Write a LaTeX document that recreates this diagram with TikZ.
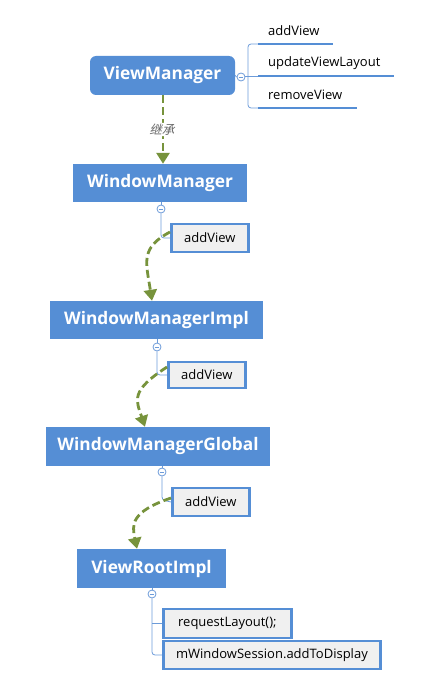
\documentclass[tikz,border=0pt]{standalone}
\usepackage{fontspec}
\setmainfont{Open Sans}
\newfontfamily\cjk{Noto Sans CJK SC}
\usetikzlibrary{arrows.meta}
\definecolor{boxblue}{HTML}{558ED5}
\definecolor{lineblue}{HTML}{6C9BD9}
\definecolor{dgreen}{HTML}{77933C}
\definecolor{subfill}{HTML}{F0F0F0}
\tikzset{
  mainbox/.style={fill=boxblue, text=white, font=\fontsize{17.3}{19}\selectfont\bfseries, inner sep=0pt, anchor=center},
  subbox/.style={draw=boxblue, line width=2.8pt, fill=subfill, font=\fontsize{13}{15}\selectfont, inner sep=0pt, anchor=west, text=black},
  leaf/.style={font=\fontsize{13}{15}\selectfont, anchor=west, inner sep=0pt, text=black},
  uline/.style={draw=boxblue, line width=2.6pt},
  thin/.style={draw=lineblue, line width=0.8pt, rounded corners=3pt},
  coll/.style={circle, draw=lineblue, fill=white, line width=0.8pt, minimum size=8pt, inner sep=0pt},
  flow/.style={draw=dgreen, line width=2.8pt, dash pattern=on 8pt off 4pt, -{Triangle[length=11pt,width=13pt]}},
}
\begin{document}
\begin{tikzpicture}[x=1pt,y=-1pt]
\useasboundingbox (0,0) rectangle (439,690);
% main boxes
\node[mainbox, rounded corners=6pt, minimum width=145pt, minimum height=39pt] (vm) at (162.5,75.5) {ViewManager};
\node[mainbox, minimum width=174pt, minimum height=38pt] (wm) at (160,183) {WindowManager};
\node[mainbox, minimum width=213pt, minimum height=38pt] (wmi) at (156.5,320) {WindowManagerImpl};
\node[mainbox, minimum width=224pt, minimum height=39pt] (wmg) at (158,446.5) {WindowManagerGlobal};
\node[mainbox, minimum width=149pt, minimum height=39pt] (vri) at (151.5,568.5) {ViewRootImpl};

% ViewManager leaves
\coordinate (b1) at (258,44);
\coordinate (b2) at (258,76);
\coordinate (b3) at (258,108);
\node[leaf] (l1) at (268,31) {addView};
\node[leaf] (l2) at (268,63) {updateViewLayout};
\node[leaf] (l3) at (268,95) {removeView};
\draw[uline] (b1) -- (333,44);
\draw[uline] (b2) -- (394,76);
\draw[uline] (b3) -- (357,108);
\draw[thin] (b1) -- (248,44) -- (248,108) -- (b3);
\draw[draw=lineblue, line width=0.8pt] (245,76) -- (b2);
\node[coll] (c0) at (241,77) {};
\draw[lineblue, line width=0.8pt] (vm.east) -- (c0.west);
\draw[lineblue, line width=0.9pt] ([xshift=-2.3pt]c0.center) -- ([xshift=2.3pt]c0.center);

% WindowManager addView
\node[subbox, minimum width=77pt, minimum height=28pt] (a1) at (170,238) {addView};
\node[coll] (c1) at (161,209) {};
\draw[thin] (wm.south -| c1) -- (c1.north);
\draw[thin] (c1.south) -- (161,238) -- (a1.west);
\draw[lineblue, line width=0.9pt] ([xshift=-2.3pt]c1.center) -- ([xshift=2.3pt]c1.center);

% WindowManagerImpl addView
\node[subbox, minimum width=77pt, minimum height=26pt] (a2) at (167,375) {addView};
\node[coll] (c2) at (157,347) {};
\draw[thin] (wmi.south -| c2) -- (c2.north);
\draw[thin] (c2.south) -- (157,375) -- (a2.west);
\draw[lineblue, line width=0.9pt] ([xshift=-2.3pt]c2.center) -- ([xshift=2.3pt]c2.center);

% WindowManagerGlobal addView
\node[subbox, minimum width=77pt, minimum height=28pt] (a3) at (171,502) {addView};
\node[coll] (c3) at (162,472) {};
\draw[thin] (wmg.south -| c3) -- (c3.north);
\draw[thin] (c3.south) -- (162,500) -- (a3.west);
\draw[lineblue, line width=0.9pt] ([xshift=-2.3pt]c3.center) -- ([xshift=2.3pt]c3.center);

% ViewRootImpl children
\node[subbox, minimum width=128pt, minimum height=29pt] (r1) at (162,623.5) {requestLayout();};
\node[subbox, minimum width=217pt, minimum height=28pt] (r2) at (162,655) {mWindowSession.addToDisplay};
\node[coll] (c4) at (152,594) {};
\draw[thin] (vri.south -| c4) -- (c4.north);
\draw[thin] (c4.south) -- (152,655) -- (r2.west);
\draw[thin] (152,623.5) -- (r1.west);
\draw[lineblue, line width=0.9pt] ([xshift=-2.3pt]c4.center) -- ([xshift=2.3pt]c4.center);

% flows
\draw[flow] (vm.south -| 163,0) -- node[fill=white, inner sep=1pt, font=\cjk\fontsize{12.5}{13}\selectfont, text=gray!80!black, xslant=0.25] (inh) {继承} (wm.north -| 163,0);
\coordinate (s1) at ([yshift=6pt]a1.west);
\draw[flow] (s1) .. controls (140,248) and (146,262) .. (wmi.north -| 152,0);
\coordinate (s2) at ([yshift=8pt]a2.west);
\draw[flow] (s2) .. controls (130,391) and (136,400) .. (wmg.north -| 145,0);
\coordinate (s3) at ([yshift=4pt]a3.west);
\draw[flow] (s3) .. controls (130,512) and (132,525) .. (vri.north -| 137,0);
\end{tikzpicture}
\end{document}
